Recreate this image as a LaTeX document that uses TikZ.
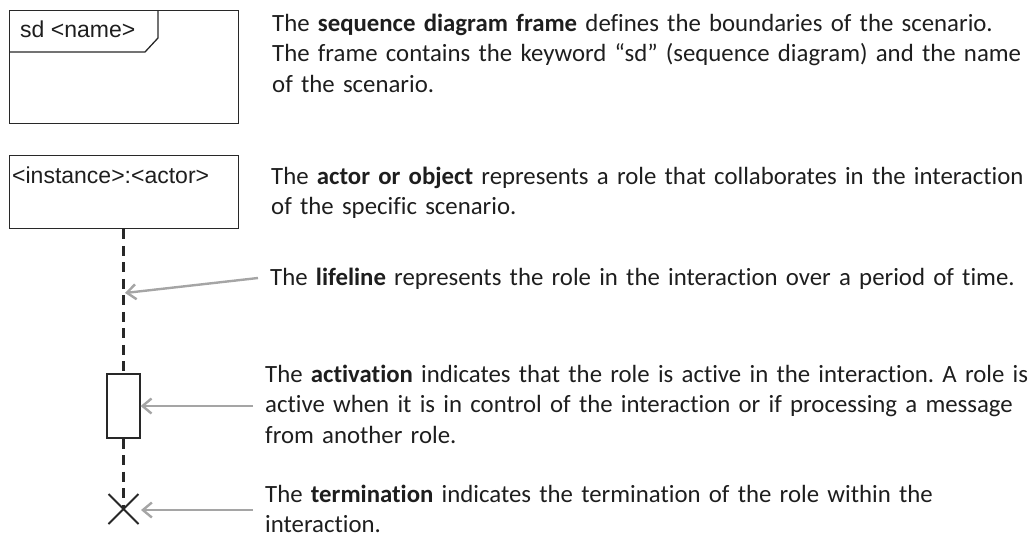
\documentclass[tikz,border=0pt]{standalone}
\usepackage{fontspec}
\setmainfont{Carlito}[Ligatures=NoCommon]
\newfontfamily\boxfont{Liberation Sans}
\usetikzlibrary{arrows.meta}
\definecolor{txt}{RGB}{30,30,30}
\definecolor{arr}{RGB}{165,165,165}
\definecolor{ln}{RGB}{40,40,40}
\tikzset{
  umlbox/.style={draw=ln, line width=1.3pt, inner sep=0pt, anchor=north west},
  boxlabel/.style={font=\boxfont\fontsize{23}{27}\selectfont, text=txt, inner sep=0pt, anchor=base west},
  desc/.style={font=\fontsize{24.8}{30.7}\selectfont, text=txt, inner sep=0pt, anchor=base west, text width=770pt, align=left},
  lifeln/.style={draw=ln, line width=2.2pt, dash pattern=on 10pt off 6.5pt},
  pointer/.style={draw=arr, line width=2.4pt, -{Straight Barb[length=9pt,width=15pt,line width=2.4pt]}},
}
\frenchspacing
\begin{document}
\begin{tikzpicture}[x=1pt,y=-1pt]
\useasboundingbox (0,0) rectangle (1032,538);
% frame
\node[umlbox, minimum width=229pt, minimum height=113pt] (frame) at (9,10) {};
\coordinate (tabA) at (158,10);
\coordinate (tabB) at (158,38);
\coordinate (tabC) at (145,52);
\coordinate (tabD) at (9,52);
\draw[ln, line width=1.3pt] (tabA) -- (tabB) -- (tabC) -- (tabD);
\node[boxlabel] (framelbl) at (20,37) {sd <name>};
% actor
\node[umlbox, minimum width=229pt, minimum height=73pt] (actor) at (9,155) {};
\node[boxlabel] (actorlbl) at (12,183) {<instance>:<actor>};
% activation
\node[draw=ln, line width=1.3pt, fill=white, minimum width=33pt, minimum height=64pt, inner sep=0pt] (act) at (123.5,406) {};
% termination
\coordinate (xc) at (123.5,509);
\coordinate (x1) at (108.5,494);
\coordinate (x2) at (138.5,524);
\coordinate (x3) at (138.5,494);
\coordinate (x4) at (108.5,524);
\draw[ln, line width=1.8pt] (x1) -- (x2) (x3) -- (x4);
% lifeline
\draw[lifeln] (actor.south -| act.north) -- (act.north);
\draw[lifeln] (act.south) -- (xc);
% descriptions
\node[desc] (d1) at (272,31) {The \textbf{sequence diagram frame} defines the boundaries of the scenario.\\The frame contains the keyword “sd” (sequence diagram) and the name\\of the scenario.};
\node[desc] (d2) at (271,184) {The \textbf{actor or object} represents a role that collaborates in the interaction\\of the specific scenario.};
\node[desc] (d3) at (270,285) {The \textbf{lifeline} represents the role in the interaction over a period of time.};
\node[desc] (d4) at (265,382) {The \textbf{activation} indicates that the role is active in the interaction. A role is\\active when it is in control of the interaction or if processing a message\\from another role.};
\node[desc] (d5) at (265,502) {The \textbf{termination} indicates the termination of the role within the\\interaction.};
% pointers
\coordinate (p3s) at (258,278);
\coordinate (p3e) at (125,293);
\coordinate (p4s) at (253,406);
\coordinate (p5s) at (253,510);
\coordinate (p5e) at (141,510);
\draw[pointer] (p3s) -- (p3e);
\draw[pointer] (p4s) -- (act.east);
\draw[pointer] (p5s) -- (p5e);
\end{tikzpicture}
\end{document}
